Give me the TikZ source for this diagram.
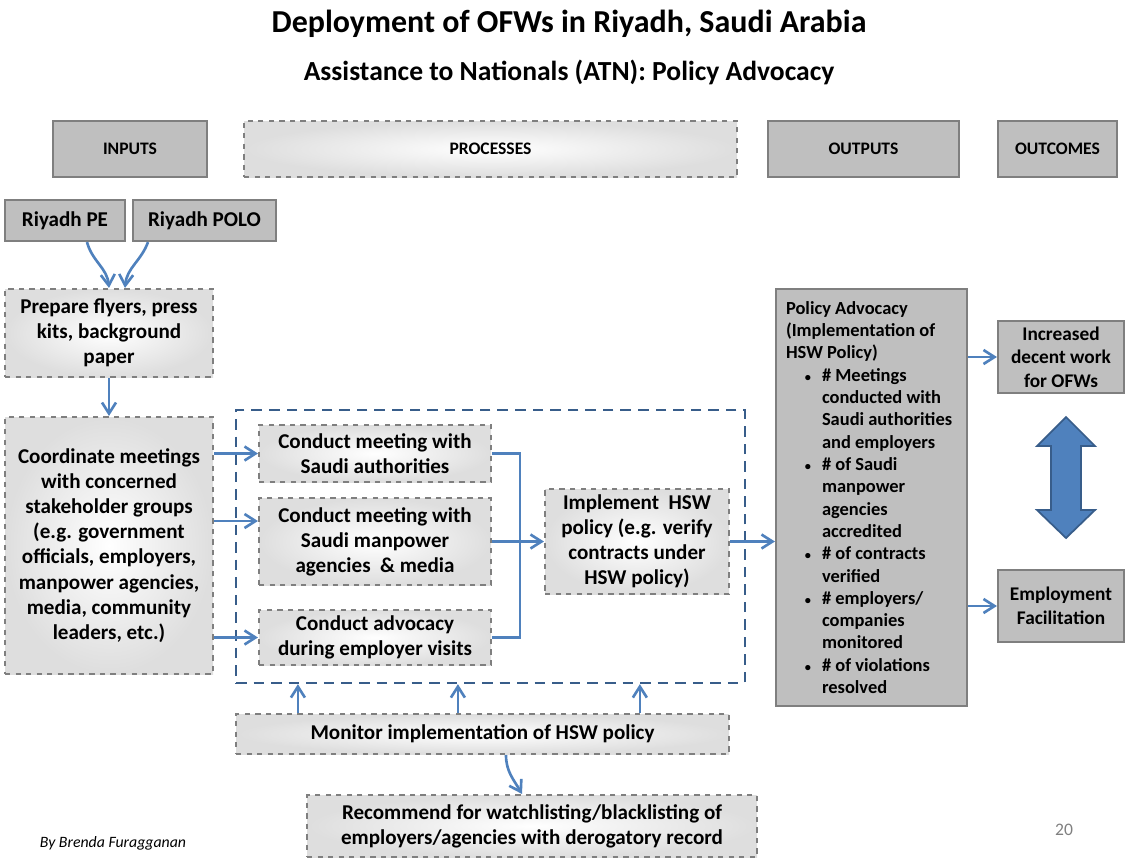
\documentclass[tikz,border=0pt]{standalone}
\usepackage{fontspec}
\setmainfont{Carlito}
\usetikzlibrary{arrows.meta,positioning}
\definecolor{boxgray}{HTML}{BFBFBF}
\definecolor{edgegray}{HTML}{7F7F7F}
\definecolor{flowblue}{HTML}{4F81BD}
\definecolor{darkblue}{HTML}{385D8A}
\newcommand{\bodyfont}{\bfseries\fontsize{12}{14.3}\selectfont}
\newcommand{\headfont}{\bfseries\fontsize{10}{12}\selectfont}
\newcommand{\dotmark}{{\fontsize{7}{7}\selectfont\textbullet}}
\tikzset{
  sz/.style 2 args={minimum width=#1*0.02cm, minimum height=#2*0.02cm},
  graybox/.style={draw=edgegray, fill=boxgray, line width=1.2pt, align=center, inner sep=2pt, font=\bodyfont},
  dashbox/.style={draw=edgegray, dashed, line width=1.2pt, shading=radial, inner color=white, outer color=black!13, align=center, inner sep=2pt, font=\bodyfont},
  flow/.style={draw=flowblue, line width=1.5pt, -{Straight Barb[length=2.2mm,width=2.8mm]}},
  link/.style={draw=flowblue, line width=1.5pt},
}

\begin{document}
\begin{tikzpicture}[x=0.02cm, y=-0.02cm]
\useasboundingbox (0,0) rectangle (1126,860);

% titles
\node[font=\bfseries\fontsize{18.2}{21}\selectfont] (title) at (569,24) {Deployment of OFWs in Riyadh, Saudi Arabia};
\node[font=\bfseries\fontsize{15.7}{18}\selectfont] (subtitle) at (569,72) {Assistance to Nationals (ATN): Policy Advocacy};

% column heads
\node[graybox, sz={154}{56}, font=\headfont] (inputs) at (130,149) {INPUTS};
\node[dashbox, sz={493}{56}, font=\headfont] (processes) at (490.5,149) {PROCESSES};
\node[graybox, sz={191}{56}, font=\headfont] (outputs) at (863.5,149) {OUTPUTS};
\node[graybox, sz={119}{56}, font=\headfont] (outcomes) at (1057.5,149) {OUTCOMES};

% inputs
\node[graybox, sz={120}{41}] (pe) at (65,220.5) {Riyadh PE};
\node[graybox, sz={143}{41}] (polo) at (204.5,220.5) {Riyadh POLO};

% processes
\node[dashbox, sz={208}{88}] (prep) at (109,333) {Prepare flyers, press\\kits, background\\paper};
\node[dashbox, sz={208}{257}] (coord) at (109,545.5) {Coordinate meetings\\with concerned\\stakeholder groups\\(e.g. government\\officials, employers,\\manpower agencies,\\media, community\\leaders, etc.)};
\node[draw=darkblue, dashed, dash pattern=on 6pt off 4pt, line width=1.3pt, sz={509}{273}] (frame) at (490.5,546.5) {};
\node[dashbox, sz={232}{57}] (mauth) at (375,453.5) {Conduct meeting with\\Saudi authorities};
\node[dashbox, sz={232}{87}] (mmedia) at (375,541.5) {Conduct meeting with\\Saudi manpower\\agencies \ \& media};
\node[dashbox, sz={232}{55}] (visits) at (375,637.5) {Conduct advocacy\\during employer visits};
\node[dashbox, sz={184}{105}] (impl) at (637,541.5) {Implement \ HSW\\policy (e.g. verify\\contracts under\\HSW policy)};
\node[dashbox, sz={493}{40}] (monitor) at (482.5,734) {Monitor implementation of HSW policy};
\node[dashbox, sz={450}{62}] (recommend) at (532,826) {Recommend for watchlisting/blacklisting of\\employers/agencies with derogatory record};

% outputs
\node[graybox, sz={191}{417}, inner xsep=0.2cm, text width=3.42cm, align=flush left, font=\bfseries\fontsize{10.5}{12.7}\selectfont] (policy) at (871.5,497.5) {%
Policy Advocacy\\(Implementation of\\HSW Policy)\par
\begin{list}{\dotmark}{\setlength\leftmargin{0.72cm}\setlength\labelsep{0.22cm}\setlength\itemsep{0pt}\setlength\parsep{0pt}\setlength\topsep{0pt}\setlength\partopsep{0pt}}
\item \# Meetings\\conducted with\\Saudi authorities\\and employers
\item \# of Saudi\\manpower\\agencies\\accredited
\item \# of contracts\\verified
\item \# employers/\\companies\\monitored
\item \# of violations\\resolved
\end{list}};

% outcomes
\node[graybox, sz={126}{72}, font=\bfseries\fontsize{11}{13.5}\selectfont] (decent) at (1061,357) {Increased\\decent work\\for OFWs};
\node[graybox, sz={126}{72}, font=\bfseries\fontsize{11}{13.5}\selectfont] (employ) at (1061,606) {Employment\\Facilitation};
\filldraw[fill=flowblue, draw=darkblue, line width=1pt] (1066,417) -- (1095,446) -- (1081,446) -- (1081,510) -- (1095,510) -- (1066,538) -- (1037,510) -- (1051,510) -- (1051,446) -- (1037,446) -- cycle;

% connectors
\coordinate (mmin) at ([yshift=0.41cm]mmedia.west);
\coordinate (jn) at (520,541.5);
\draw[flow] ([xshift=0.44cm]pe.south) to[out=-75,in=95] (prep.north);
\draw[flow] ([xshift=-1.13cm]polo.south) to[out=-110,in=85] ([xshift=0.32cm]prep.north);
\draw[flow] (prep.south) -- (coord.north);
\draw[flow] (coord.east |- mauth.west) -- (mauth.west);
\draw[flow] (coord.east |- mmin) -- (mmin);
\draw[flow] (coord.east |- visits.west) -- (visits.west);
\draw[link] (mauth.east) -| (jn) |- (visits.east);
\draw[flow] (mmedia.east) -- (impl.west);
\draw[flow] (impl.east) -- (impl.east -| policy.west);
\draw[flow] (policy.east |- decent.west) -- (decent.west);
\draw[flow] (policy.east |- employ.west) -- (employ.west);
\draw[flow] ([xshift=1.26cm]monitor.north west) -- ([xshift=1.26cm]monitor.north west |- frame.south);
\draw[flow] ([xshift=4.46cm]monitor.north west) -- ([xshift=4.46cm]monitor.north west |- frame.south);
\draw[flow] ([xshift=8.1cm]monitor.north west) -- ([xshift=8.1cm]monitor.north west |- frame.south);
\draw[flow] ([xshift=0.47cm]monitor.south) to[out=-90,in=120] ([xshift=-0.2cm]recommend.north);

% footer
\node[font=\itshape\fontsize{9}{11}\selectfont] (author) at (113,843) {By Brenda Furagganan};
\node[font=\fontsize{10}{12}\selectfont, text=gray] (page) at (1064,830) {20};
\end{tikzpicture}
\end{document}
